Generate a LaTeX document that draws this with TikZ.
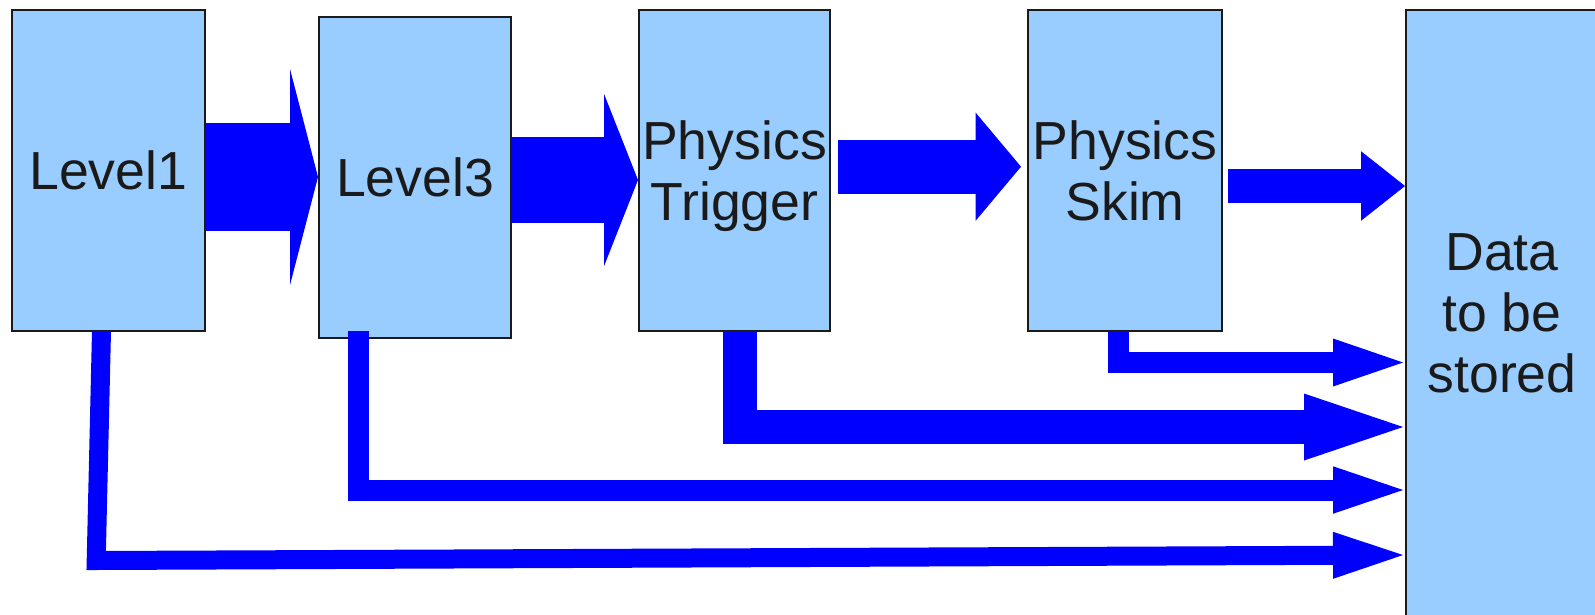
\documentclass[tikz,border=0pt]{standalone}
\usepackage{fontspec}
\setmainfont{Liberation Sans}
\usetikzlibrary{arrows.meta,calc}
\definecolor{boxblue}{HTML}{99CCFF}
\definecolor{flowblue}{HTML}{0000FF}
\definecolor{ink}{HTML}{1A1A1A}
\begin{document}
\begin{tikzpicture}[x=0.5pt,y=-0.5pt,
  stage/.style={draw=ink, line width=1pt, fill=boxblue, inner sep=0pt,
    text=ink, align=center, font=\fontsize{26.8}{30.5}\selectfont,
    minimum height=160.5pt, text depth=0pt},
  pipe/.style={draw=flowblue, line cap=butt, line join=miter},
]
\useasboundingbox (0,0) rectangle (1595,615);
\fill[white] (0,0) rectangle (1595,615);

% processing stages
\node[stage, minimum width=96.6pt] (L1) at (108.2,170.5) {Level1};
\node[stage, minimum width=96pt] (L3) at (415,177.5) {Level3};
\node[stage, minimum width=95.5pt] (T) at (734.5,170.5) {Physics\\Trigger};
\node[stage, minimum width=97pt] (S) at (1125,170.5) {Physics\\Skim};
\node[stage, minimum width=96pt, minimum height=303.5pt] (D) at (1502,313.5) {Data\\to be\\stored};

% main chain
\draw[pipe, line width=53.85pt, -{Triangle[length=14pt,width=108pt,line width=0pt]}]
  (L1.east |- 0,177) -- (L3.west |- 0,177);
\draw[pipe, line width=43pt, -{Triangle[length=17pt,width=86.2pt,line width=0pt]}]
  (L3.east |- 0,180) -- (T.west |- 0,180);
\draw[pipe, line width=27.15pt, -{Triangle[length=22.75pt,width=54.2pt,line width=0pt]}]
  ($(T.east |- 0,166.7)+(7,0)$) -- ($(S.west |- 0,166.7)+(-6,0)$);
\draw[pipe, line width=16.8pt, -{Triangle[length=22pt,width=34.8pt,line width=0pt]}]
  ($(S.east |- 0,186)+(5,0)$) -- (D.west |- 0,186);

% direct paths to storage
\draw[pipe, line width=10.5pt, -{Triangle[length=35pt,width=24pt,line width=0pt]}]
  ($(S.south)+(-7,-1)$) |- ($(D.west |- 0,362.5)+(-2,0)$);
\draw[pipe, line width=17pt, -{Triangle[length=49.5pt,width=33.5pt,line width=0pt]}]
  ($(T.south)+(5.5,-1)$) |- ($(D.west |- 0,427)+(-2,0)$);
\draw[pipe, line width=10.5pt, -{Triangle[length=35pt,width=23.75pt,line width=0pt]}]
  ($(L3.south)+(-56.5,-8)$) |- ($(D.west |- 0,490)+(-2,0)$);
\coordinate (b4) at (96.2,560.5);
\draw[pipe, line width=9.5pt, -{Triangle[length=35pt,width=23.5pt,line width=0pt]}]
  ($(L1.south)+(-6.7,-1)$) -- (b4) -- ($(D.west |- 0,555)+(-2,0)$);
\end{tikzpicture}
\end{document}
